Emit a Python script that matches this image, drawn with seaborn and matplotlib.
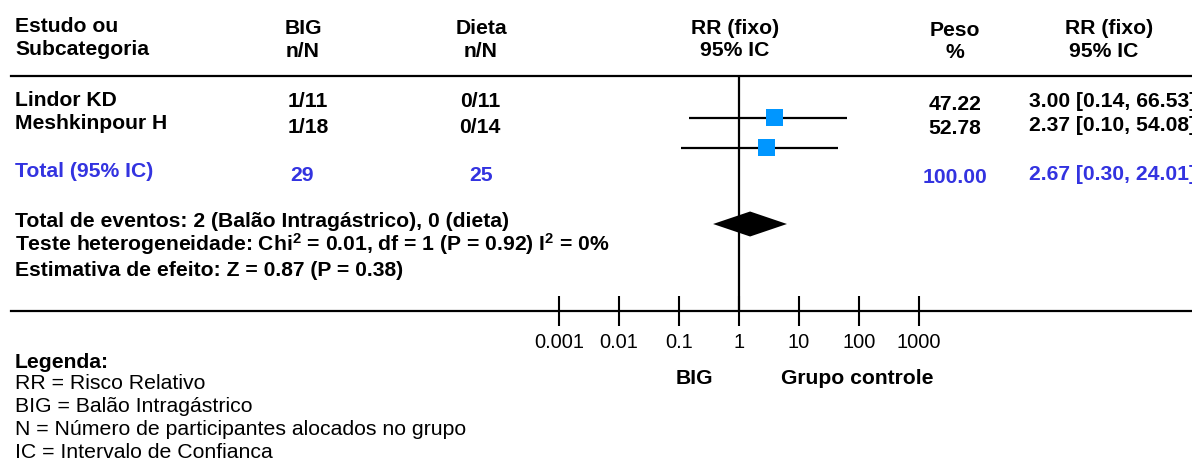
import matplotlib
matplotlib.use("Agg")
import matplotlib.pyplot as plt
from matplotlib.ticker import NullLocator, FixedLocator, FixedFormatter
import seaborn as sns
import pandas as pd

# ---------------- data ----------------
studies = ["Lindor KD", "Meshkinpour H"]
big_nN = ["1/11", "1/18"]
diet_nN = ["0/11", "0/14"]
weights = ["47.22", "52.78"]
rr_text = ["3.00 [0.14, 66.53]", "2.37 [0.10, 54.08]"]

total_label = "Total (95% IC)"
total_big = "29"
total_diet = "25"
total_weight = "100.00"
total_rr_text = "2.67 [0.30, 24.01]"

# positions of the marks as drawn in the graphic
rr_point = [3.9, 2.87]
ci_low = [0.147, 0.108]
ci_high = [63.0, 44.7]
diamond_lo_est_hi = [0.37, 1.53, 6.3]

tick_values = [0.001, 0.01, 0.1, 1, 10, 100, 1000]
tick_labels = ["0.001", "0.01", "0.1", "1", "10", "100", "1000"]

summary_lines = [
    "Total de eventos: 2 (Balão Intragástrico), 0 (dieta)",
    "Teste heterogeneidade: Chi$^2$ = 0.01, df = 1 (P = 0.92) I$^2$ = 0%",
    "Estimativa de efeito: Z = 0.87 (P = 0.38)",
]
legend_title = "Legenda:"
legend_lines = [
    "RR = Risco Relativo",
    "BIG = Balão Intragástrico",
    "N = Número de participantes alocados no grupo",
    "IC = Intervalo de Confianca",
]
axis_left_label = "BIG"
axis_right_label = "Grupo controle"

# ---------------- style ----------------
sns.set_theme(style="white")
plt.rcParams["font.family"] = ["Liberation Sans", "DejaVu Sans"]
plt.rcParams["mathtext.fontset"] = "custom"
plt.rcParams["mathtext.default"] = "bf"
plt.rcParams["mathtext.bf"] = "Liberation Sans:bold"
plt.rcParams["mathtext.rm"] = "Liberation Sans:bold"

W, H, DPI = 1192, 466, 100
fig = plt.figure(figsize=(W / DPI, H / DPI), dpi=DPI)
fig.patch.set_facecolor("white")

BLUE_TXT = "#3333E0"
SQ_COLOR = "#0096FF"
BOLD_FS = 15.2
REG_FS = 15.3


def T(x, y, s, ha="left", **kw):
    """Place text with pixel coords (x from left, baseline y from top)."""
    fig.text(x / W, 1 - y / H, s, ha=ha, va="baseline", **kw)


# ---------------- forest axes ----------------
ax_left, ax_right, ax_top, ax_bottom = 11, W, 76.5, 311
ax = fig.add_axes([ax_left / W, 1 - ax_bottom / H,
                   (ax_right - ax_left) / W, (ax_bottom - ax_top) / H])
ax.set_facecolor("none")
ax.set_xscale("log")
one_px, px_per_decade = 739, 60.0
ax.set_xlim(10 ** ((ax_left - one_px) / px_per_decade),
            10 ** ((ax_right - one_px) / px_per_decade))
ax.set_ylim(ax_bottom, ax_top)   # y in pixels from top

for side in ["left", "right"]:
    ax.spines[side].set_visible(False)
for side in ["top", "bottom"]:
    ax.spines[side].set_visible(True)
    ax.spines[side].set_linewidth(1.6)
    ax.spines[side].set_color("black")

ax.xaxis.set_major_locator(FixedLocator(tick_values))
ax.xaxis.set_major_formatter(FixedFormatter(tick_labels))
ax.xaxis.set_minor_locator(NullLocator())
ax.tick_params(axis="x", which="major", direction="inout", length=21,
               width=1.5, color="black", pad=5.5, labelsize=14.4,
               labelcolor="black", bottom=True, top=False)
ax.set_yticks([])

ax.axvline(1, color="black", lw=1.6, zorder=1)

row_y = [117.5, 147.5]
diamond_y = 224
ax.hlines(row_y, ci_low, ci_high, color="black", lw=1.6, zorder=2)

df = pd.DataFrame({"rr": rr_point, "y": row_y, "study": studies})
sns.scatterplot(data=df, x="rr", y="y", marker="s", s=12.2 ** 2,
                color=SQ_COLOR, edgecolor="none", linewidth=0, ax=ax,
                zorder=3, legend=False)
ax.set_xlabel("")
ax.set_ylabel("")

lo, est, hi = diamond_lo_est_hi
ax.fill([lo, est, hi, est],
        [diamond_y, diamond_y - 12.5, diamond_y, diamond_y + 12.5],
        color="black", lw=0, zorder=3)

# ---------------- header ----------------
b = dict(fontsize=BOLD_FS, fontweight="bold", color="black")
T(15, 32, "Estudo ou", **b)
T(15, 55, "Subcategoria", **b)
T(303, 34, "BIG", ha="center", **b)
T(303, 57, "n/N", ha="center", **b)
T(481, 34, "Dieta", ha="center", **b)
T(481, 57, "n/N", ha="center", **b)
T(735, 34, "RR (fixo)", ha="center", **b)
T(735, 56, "95% IC", ha="center", **b)
T(955, 36, "Peso", ha="center", **b)
T(955, 58, "%", ha="center", **b)
T(1109, 34, "RR (fixo)", ha="center", **b)
T(1104, 57, "95% IC", ha="center", **b)

# ---------------- rows ----------------
name_base = [106, 129]
num_base = [107, 133]
wt_base = [110, 134]
rr_base = [107, 131]
for i in range(len(studies)):
    T(15, name_base[i], studies[i], **b)
    T(308, num_base[i], big_nN[i], ha="center", **b)
    T(480, num_base[i], diet_nN[i], ha="center", **b)
    T(955, wt_base[i], weights[i], ha="center", **b)
    T(1029, rr_base[i], rr_text[i], **b)

bb = dict(fontsize=BOLD_FS, fontweight="bold", color=BLUE_TXT)
T(15, 177, total_label, **bb)
T(302, 181, total_big, ha="center", **bb)
T(481, 181, total_diet, ha="center", **bb)
T(955, 183, total_weight, ha="center", **bb)
T(1029, 180, total_rr_text, **bb)

# ---------------- summary ----------------
for yb, line in zip([227, 251, 276], summary_lines):
    T(15, yb, line, **b)

# ---------------- axis side labels ----------------
T(694, 384, axis_left_label, ha="center", **b)
T(857, 384, axis_right_label, ha="center", **b)

# ---------------- legend ----------------
T(15, 368, legend_title, **b)
for yb, line in zip([389, 412, 435, 458], legend_lines):
    T(15, yb, line, fontsize=REG_FS, color="black")

fig.savefig("out.png", dpi=DPI, facecolor="white")
